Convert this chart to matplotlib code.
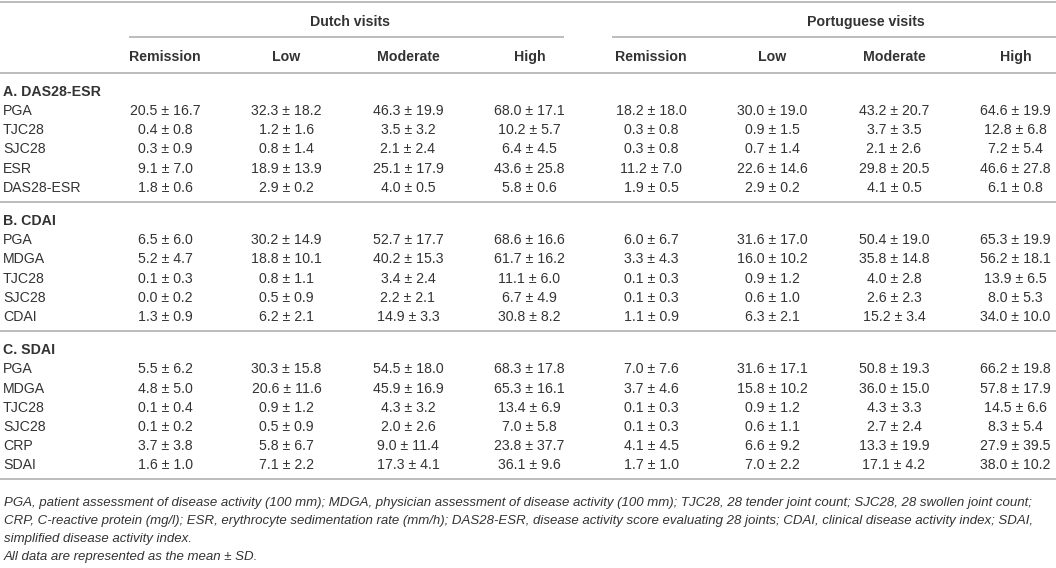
import matplotlib
matplotlib.use("Agg")
import matplotlib.pyplot as plt

# ---------------- data ----------------
groups = ["Dutch visits", "Portuguese visits"]
categories = ["Remission", "Low", "Moderate", "High"]
sections = ["A. DAS28-ESR", "B. CDAI", "C. SDAI"]

labels_A = ["PGA", "TJC28", "SJC28", "ESR", "DAS28-ESR"]
dutch_mean_A = [[20.5, 32.3, 46.3, 68.0], [0.4, 1.2, 3.5, 10.2], [0.3, 0.8, 2.1, 6.4],
                [9.1, 18.9, 25.1, 43.6], [1.8, 2.9, 4.0, 5.8]]
dutch_sd_A = [[16.7, 18.2, 19.9, 17.1], [0.8, 1.6, 3.2, 5.7], [0.9, 1.4, 2.4, 4.5],
              [7.0, 13.9, 17.9, 25.8], [0.6, 0.2, 0.5, 0.6]]
port_mean_A = [[18.2, 30.0, 43.2, 64.6], [0.3, 0.9, 3.7, 12.8], [0.3, 0.7, 2.1, 7.2],
               [11.2, 22.6, 29.8, 46.6], [1.9, 2.9, 4.1, 6.1]]
port_sd_A = [[18.0, 19.0, 20.7, 19.9], [0.8, 1.5, 3.5, 6.8], [0.8, 1.4, 2.6, 5.4],
             [7.0, 14.6, 20.5, 27.8], [0.5, 0.2, 0.5, 0.8]]

labels_B = ["PGA", "MDGA", "TJC28", "SJC28", "CDAI"]
dutch_mean_B = [[6.5, 30.2, 52.7, 68.6], [5.2, 18.8, 40.2, 61.7], [0.1, 0.8, 3.4, 11.1],
                [0.0, 0.5, 2.2, 6.7], [1.3, 6.2, 14.9, 30.8]]
dutch_sd_B = [[6.0, 14.9, 17.7, 16.6], [4.7, 10.1, 15.3, 16.2], [0.3, 1.1, 2.4, 6.0],
              [0.2, 0.9, 2.1, 4.9], [0.9, 2.1, 3.3, 8.2]]
port_mean_B = [[6.0, 31.6, 50.4, 65.3], [3.3, 16.0, 35.8, 56.2], [0.1, 0.9, 4.0, 13.9],
               [0.1, 0.6, 2.6, 8.0], [1.1, 6.3, 15.2, 34.0]]
port_sd_B = [[6.7, 17.0, 19.0, 19.9], [4.3, 10.2, 14.8, 18.1], [0.3, 1.2, 2.8, 6.5],
             [0.3, 1.0, 2.3, 5.3], [0.9, 2.1, 3.4, 10.0]]

labels_C = ["PGA", "MDGA", "TJC28", "SJC28", "CRP", "SDAI"]
dutch_mean_C = [[5.5, 30.3, 54.5, 68.3], [4.8, 20.6, 45.9, 65.3], [0.1, 0.9, 4.3, 13.4],
                [0.1, 0.5, 2.0, 7.0], [3.7, 5.8, 9.0, 23.8], [1.6, 7.1, 17.3, 36.1]]
dutch_sd_C = [[6.2, 15.8, 18.0, 17.8], [5.0, 11.6, 16.9, 16.1], [0.4, 1.2, 3.2, 6.9],
              [0.2, 0.9, 2.6, 5.8], [3.8, 6.7, 11.4, 37.7], [1.0, 2.2, 4.1, 9.6]]
port_mean_C = [[7.0, 31.6, 50.8, 66.2], [3.7, 15.8, 36.0, 57.8], [0.1, 0.9, 4.3, 14.5],
               [0.1, 0.6, 2.7, 8.3], [4.1, 6.6, 13.3, 27.9], [1.7, 7.0, 17.1, 38.0]]
port_sd_C = [[7.6, 17.1, 19.3, 19.8], [4.6, 10.2, 15.0, 17.9], [0.3, 1.2, 3.3, 6.6],
             [0.3, 1.1, 2.4, 5.4], [4.5, 9.2, 19.9, 39.5], [1.0, 2.2, 4.2, 10.2]]

footnotes = [
    "PGA, patient assessment of disease activity (100 mm); MDGA, physician assessment of disease activity (100 mm); TJC28, 28 tender joint count; SJC28, 28 swollen joint count;",
    "CRP, C-reactive protein (mg/l); ESR, erythrocyte sedimentation rate (mm/h); DAS28-ESR, disease activity score evaluating 28 joints; CDAI, clinical disease activity index; SDAI,",
    "simplified disease activity index.",
    "All data are represented as the mean \u00b1 SD.",
]

# ---------------- layout / style ----------------
W, H = 1056, 568
TXT = "#333333"
LINE = "#aaaaaa"
FONT = "Liberation Sans"
FS = 10.2
FS_FOOT = 9.5
LW = 1.1
S = 0.985  # vertical scale

fig = plt.figure(figsize=(W / 100, H / 100), dpi=100)
ax = fig.add_axes([0, 0, 1, 1])
ax.set_xlim(0, W)
ax.set_ylim(H, 0)
ax.axis("off")


def put(x, y, s, ha="center", bold=False, italic=False, size=FS):
    # y is the visual centre of capitals; convert to baseline
    off = size * 100 / 72 * 0.36
    ax.text(x, y * S + off, s, ha=ha, va="baseline", color=TXT, fontfamily=FONT,
            fontsize=size, fontweight="bold" if bold else "normal",
            fontstyle="italic" if italic else "normal")


def hline(y, x0=0, x1=W):
    ax.plot([x0, x1], [y * S, y * S], color=LINE, lw=LW, solid_capstyle="butt")


col_x0, col_dx = 165.0, 121.5
col_x = [col_x0 + col_dx * i for i in range(8)]
label_x = 3

# header
hline(2.5)
put(350, 20.9, groups[0], bold=True)
put(866, 20.9, groups[1], bold=True)
hline(37.8, 129, 564)
hline(37.8, 612, W)
for i in range(8):
    put(col_x[i], 56.5, categories[i % 4], bold=True)
hline(73.8)

pitch = 19.45
gap_line = 15.5
gap_head = 18.3

blocks = [
    (sections[0], labels_A, dutch_mean_A, dutch_sd_A, port_mean_A, port_sd_A),
    (sections[1], labels_B, dutch_mean_B, dutch_sd_B, port_mean_B, port_sd_B),
    (sections[2], labels_C, dutch_mean_C, dutch_sd_C, port_mean_C, port_sd_C),
]

y = 92.3
for title, labels, dm, dsd, pm, psd in blocks:
    put(label_x, y, title, ha="left", bold=True)
    for r, lab in enumerate(labels):
        y += pitch
        put(label_x, y, lab, ha="left")
        vals = [(dm[r][c], dsd[r][c]) for c in range(4)] + [(pm[r][c], psd[r][c]) for c in range(4)]
        for c, (m, s) in enumerate(vals):
            put(col_x[c], y, f"{m:.1f} \u00b1 {s:.1f}")
    y += gap_line
    hline(y)
    y += gap_head

fy = y + 3.7
for line in footnotes:
    put(label_x + 1, fy, line, ha="left", italic=True, size=FS_FOOT)
    fy += 18.5

fig.savefig("out.png", dpi=100)
